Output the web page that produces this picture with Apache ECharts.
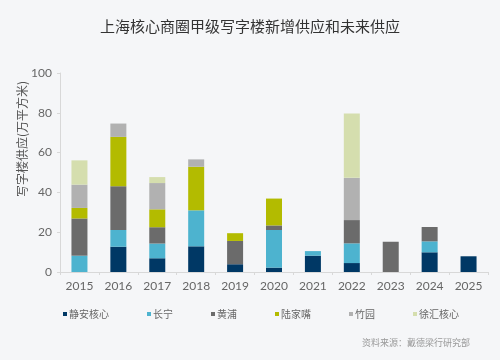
<!DOCTYPE html>
<html><head><meta charset="utf-8">
<script src="https://cdn.jsdelivr.net/npm/echarts@6/dist/echarts.min.js"></script>
<style>html,body{margin:0;padding:0;background:#f5f6f8}#c{width:500px;height:360px}</style>
</head><body><div id="c"></div>
<script>
const categories = ['2015','2016','2017','2018','2019','2020','2021','2022','2023','2024','2025'];
const seriesNames = ['静安核心','长宁','黄浦','陆家嘴','竹园','徐汇核心'];
const jingan    = [0, 12.7, 6.9, 12.9, 3.9, 2.2, 8.2, 4.5, 0, 9.9, 7.9];
const changning = [8.2, 8.4, 7.4, 18.1, 0, 18.9, 2.3, 9.9, 0, 5.5, 0];
const huangpu   = [18.7, 22, 8.2, 0, 11.7, 2.3, 0, 11.7, 15.2, 7.2, 0];
const lujiazui  = [5.3, 24.8, 9, 21.9, 3.9, 13.5, 0, 0, 0, 0, 0];
const zhuyuan   = [11.7, 6.7, 13.2, 3.7, 0, 0, 0, 21.2, 0, 0, 0];
const xuhui     = [12.2, 0, 3, 0, 0, 0, 0, 32.3, 0, 0, 0];
const yTicks = [0, 20, 40, 60, 80, 100];

const colors = ['#003865','#4db3cf','#6b6b6b','#b3bb00','#b1b1b1','#d5deae'];
const allData = [jingan, changning, huangpu, lujiazui, zhuyuan, xuhui];
const font = 'Lato, "Noto Sans CJK SC", sans-serif';
const cjk = '"Noto Sans CJK SC", sans-serif';

const chart = echarts.init(document.getElementById('c'));
chart.setOption({
  backgroundColor: '#f5f6f8',
  animation: false,
  title: {
    text: '上海核心商圈甲级写字楼新增供应和未来供应',
    left: 'center', top: 14,
    textStyle: {fontSize: 15, fontWeight: 'normal', color: '#333', fontFamily: cjk}
  },
  legend: {
    data: seriesNames,
    left: 58, top: 304,
    itemWidth: 4, itemHeight: 4, itemGap: 38,
    icon: 'rect',
    textStyle: {fontSize: 10, color: '#666', fontFamily: cjk, padding: [0,0,0,-3]}
  },
  grid: {left: 60, right: 12, top: 73, bottom: 88},
  xAxis: {
    type: 'category', data: categories,
    axisLine: {lineStyle: {color: '#d8d8d8'}},
    axisTick: {show: true, lineStyle: {color: '#d8d8d8'}, length: 3},
    axisLabel: {color: '#666', fontSize: 12, margin: 8, fontFamily: font}
  },
  yAxis: {
    type: 'value', min: yTicks[0], max: yTicks[yTicks.length-1], interval: 20,
    axisLine: {show: true, lineStyle: {color: '#d8d8d8'}},
    axisTick: {show: true, lineStyle: {color: '#d8d8d8'}, length: 3},
    splitLine: {show: false},
    axisLabel: {color: '#666', fontSize: 12, margin: 8, fontFamily: font}
  },
  graphic: [
    {type: 'text', x: 22, y: 139, rotation: Math.PI/2,
     style: {text: '写字楼供应(万平方米)', fill: '#555', fontSize: 12, align: 'center', verticalAlign: 'middle', fontFamily: cjk}},
    {type: 'text', right: 30, top: 338,
     style: {text: '资料来源：戴德梁行研究部', fill: '#999', fontSize: 9, fontFamily: cjk}}
  ],
  series: seriesNames.map((n, i) => ({
    name: n, type: 'bar', stack: 'total', barWidth: 16,
    itemStyle: {color: colors[i]},
    data: allData[i]
  }))
});
</script></body></html>
